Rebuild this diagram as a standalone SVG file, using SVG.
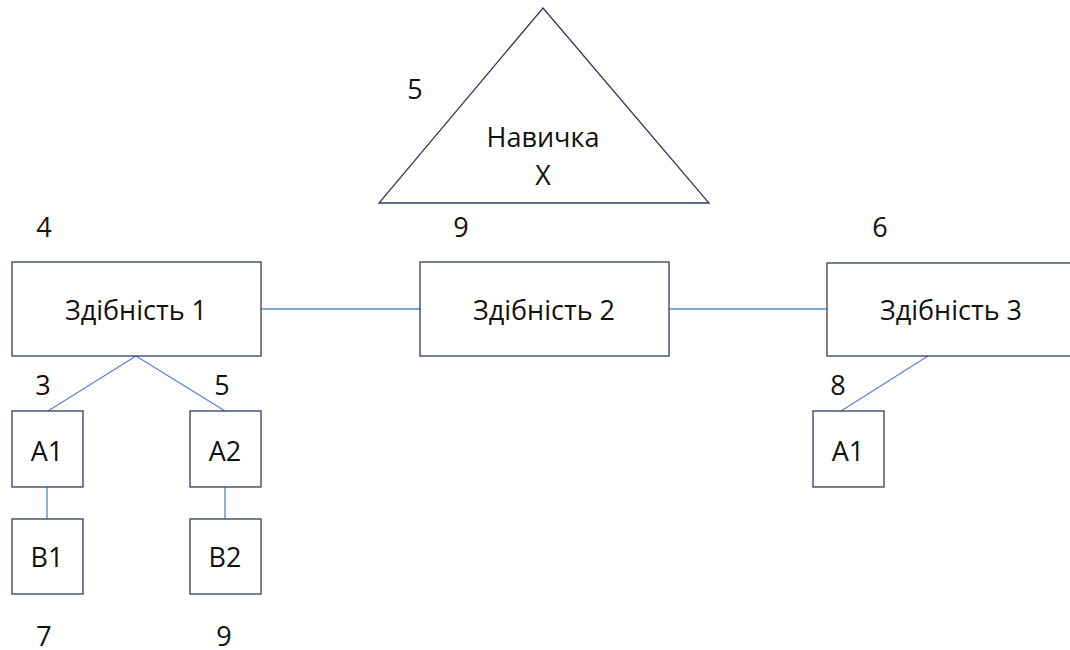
<svg xmlns="http://www.w3.org/2000/svg" width="1070" height="650" viewBox="0 0 1070 650">
<style>
.n{fill:#fff;stroke:#2f3d5c;stroke-width:1.3}
.c{stroke:#5b84cc;stroke-width:1.3;fill:none}
text{font-family:"Open Sans","Noto Sans","Liberation Sans",sans-serif;font-size:27px;fill:#111;text-anchor:middle}
</style>
<rect width="1070" height="650" fill="#fff"/>
<g id="connectors">
<line class="c" x1="261" y1="309" x2="420" y2="309"/>
<line class="c" x1="669" y1="309" x2="827" y2="309"/>
<line class="c" x1="136" y1="356" x2="48" y2="411"/>
<line class="c" x1="136" y1="356" x2="225" y2="411"/>
<line class="c" x1="47" y1="487" x2="47" y2="519"/>
<line class="c" x1="225" y1="487" x2="225" y2="519"/>
<line class="c" x1="928" y1="356" x2="841" y2="411"/>
</g>
<g id="skill-x">
<polygon class="n" points="543,8 709,203 379,203"/>
<text x="543" y="147">Навичка</text>
<text x="543" y="185">X</text>
</g>
<g id="ability1">
<rect class="n" x="12" y="262" width="249" height="94"/>
<text x="136" y="320">Здібність 1</text>
</g>
<g id="ability2">
<rect class="n" x="420" y="262" width="249" height="94"/>
<text x="544" y="320">Здібність 2</text>
</g>
<g id="ability3">
<rect class="n" x="827" y="263" width="249" height="93"/>
<text x="951" y="320">Здібність 3</text>
</g>
<g id="a1">
<rect class="n" x="12" y="411" width="71" height="76"/>
<text x="47" y="461">A1</text>
</g>
<g id="a2">
<rect class="n" x="190" y="411" width="71" height="76"/>
<text x="225" y="461">A2</text>
</g>
<g id="b1">
<rect class="n" x="12" y="519" width="71" height="75"/>
<text x="47" y="567">B1</text>
</g>
<g id="b2">
<rect class="n" x="190" y="519" width="71" height="75"/>
<text x="225" y="567">B2</text>
</g>
<g id="a1-right">
<rect class="n" x="813" y="411" width="71" height="76"/>
<text x="848" y="461">A1</text>
</g>
<g id="labels">
<text x="415" y="99">5</text>
<text x="44" y="237">4</text>
<text x="461" y="237">9</text>
<text x="880" y="237">6</text>
<text x="43" y="395">3</text>
<text x="222" y="395">5</text>
<text x="838" y="395">8</text>
<text x="44" y="646">7</text>
<text x="224" y="646">9</text>
</g>
</svg>
